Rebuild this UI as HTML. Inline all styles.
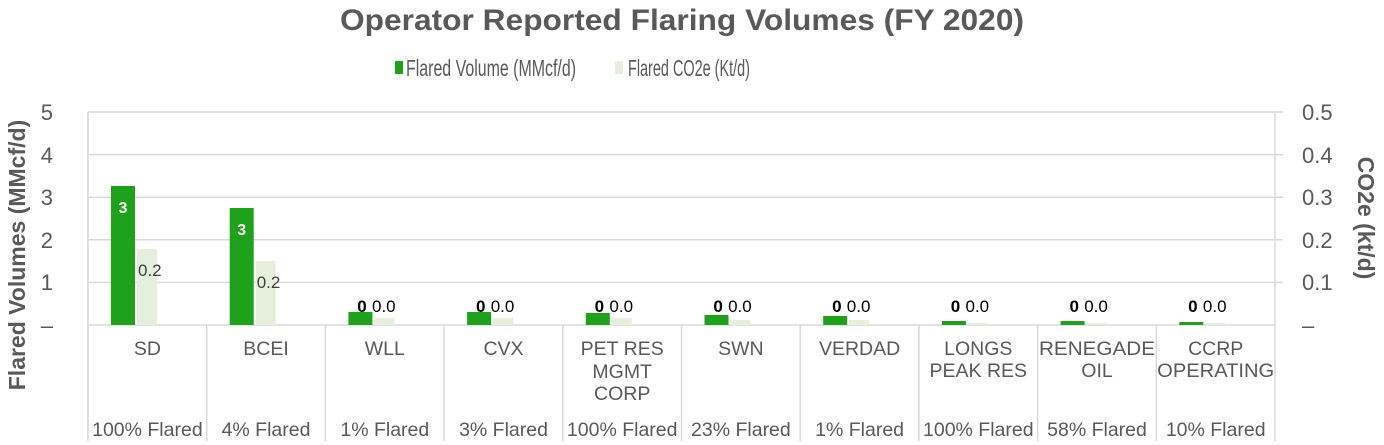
<!DOCTYPE html>
<html><head><meta charset="utf-8"><style>html,body{margin:0;padding:0;background:#fff;}svg{display:block;}</style></head>
<body>
<svg width="1384" height="445" xmlns="http://www.w3.org/2000/svg" font-family="Liberation Sans, Arial, sans-serif">
<text x="682" y="30" text-anchor="middle" font-size="30" font-weight="bold" fill="#595959" textLength="684" lengthAdjust="spacingAndGlyphs">Operator Reported Flaring Volumes (FY 2020)</text>
<rect x="395" y="61" width="8" height="13" fill="#1ea21a"/>
<text x="406" y="76" font-size="23" fill="#595959" textLength="170" lengthAdjust="spacingAndGlyphs">Flared Volume (MMcf/d)</text>
<rect x="615" y="61" width="8" height="13" fill="#e6efdc"/>
<text x="628" y="76" font-size="23" fill="#595959" textLength="122" lengthAdjust="spacingAndGlyphs">Flared CO2e (Kt/d)</text>
<g stroke="#d9d9d9" stroke-width="1.5">
<line x1="88" y1="112" x2="1283" y2="112"/><line x1="88" y1="154.6" x2="1283" y2="154.6"/><line x1="88" y1="197.2" x2="1283" y2="197.2"/><line x1="88" y1="239.8" x2="1283" y2="239.8"/><line x1="88" y1="282.4" x2="1283" y2="282.4"/><line x1="88" y1="325" x2="1275" y2="325"/>
<line x1="88" y1="112" x2="88" y2="441"/><line x1="1275" y1="112" x2="1275" y2="441"/>
<line x1="206.7" y1="325" x2="206.7" y2="441"/><line x1="325.4" y1="325" x2="325.4" y2="441"/><line x1="444.1" y1="325" x2="444.1" y2="441"/><line x1="562.8" y1="325" x2="562.8" y2="441"/><line x1="681.5" y1="325" x2="681.5" y2="441"/><line x1="800.2" y1="325" x2="800.2" y2="441"/><line x1="918.9" y1="325" x2="918.9" y2="441"/><line x1="1037.6" y1="325" x2="1037.6" y2="441"/><line x1="1156.3" y1="325" x2="1156.3" y2="441"/>
</g>
<g font-size="22" fill="#595959" text-anchor="end">
<text x="53" y="120">5</text><text x="53" y="163">4</text><text x="53" y="205">3</text><text x="53" y="248">2</text><text x="53" y="290">1</text><text x="53" y="333">–</text>
</g>
<g font-size="22" fill="#595959">
<text x="1302" y="120">0.5</text><text x="1302" y="163">0.4</text><text x="1302" y="205">0.3</text><text x="1302" y="248">0.2</text><text x="1302" y="290">0.1</text><text x="1302" y="333">–</text>
</g>
<text transform="translate(25,255) rotate(-90)" text-anchor="middle" font-size="23" font-weight="bold" fill="#595959">Flared Volumes (MMcf/d)</text>
<text transform="translate(1358,218) rotate(90)" text-anchor="middle" font-size="23" font-weight="bold" fill="#595959">CO2e (kt/d)</text>
<g fill="#1ea21a">
<rect x="111" y="186" width="24" height="139"/><rect x="229.7" y="208" width="24" height="117"/><rect x="348.4" y="312" width="24" height="13"/><rect x="467.1" y="312" width="24" height="13"/><rect x="585.8" y="313" width="24" height="12"/><rect x="704.5" y="315" width="24" height="10"/><rect x="823.2" y="316" width="24" height="9"/><rect x="941.9" y="321" width="24" height="4"/><rect x="1060.6" y="321" width="24" height="4"/><rect x="1179.3" y="322" width="24" height="3"/>
</g>
<g fill="#e6efdc">
<rect x="137" y="249" width="20" height="76"/><rect x="255.7" y="261" width="20" height="64"/><rect x="374.4" y="318" width="20" height="7"/><rect x="493.1" y="318" width="20" height="7"/><rect x="611.8" y="318" width="20" height="7"/><rect x="730.5" y="320" width="20" height="5"/><rect x="849.2" y="320" width="20" height="5"/><rect x="967.9" y="323" width="20" height="2"/><rect x="1086.6" y="323" width="20" height="2"/><rect x="1205.3" y="323" width="20" height="2"/>
</g>
<g font-size="16" font-weight="bold" fill="#fff" text-anchor="middle">
<text x="123" y="213">3</text><text x="241.7" y="235">3</text>
</g>
<g font-size="17" fill="#404040">
<text x="138" y="276">0.2</text><text x="256.7" y="288">0.2</text>
</g>
<g font-size="17" fill="#000">
<g font-weight="bold" text-anchor="middle">
<text x="362" y="312">0</text><text x="480.7" y="312">0</text><text x="599.4" y="312">0</text><text x="718.1" y="312">0</text><text x="836.8" y="312">0</text><text x="955.5" y="312">0</text><text x="1074.2" y="312">0</text><text x="1192.9" y="312">0</text>
</g>
<text x="372" y="312">0.0</text><text x="490.7" y="312">0.0</text><text x="609.4" y="312">0.0</text><text x="728.1" y="312">0.0</text><text x="846.8" y="312">0.0</text><text x="965.5" y="312">0.0</text><text x="1084.2" y="312">0.0</text><text x="1202.9" y="312">0.0</text>
</g>
<g font-size="19.5" fill="#595959" text-anchor="middle">
<text x="147.4" y="355">SD</text><text x="266" y="355">BCEI</text><text x="384.8" y="355">WLL</text><text x="503.5" y="355">CVX</text>
<text x="622.2" y="355">PET RES</text><text x="622.2" y="378">MGMT</text><text x="622.2" y="400">CORP</text>
<text x="740.9" y="355">SWN</text><text x="859.6" y="355">VERDAD</text>
<text x="978.3" y="355">LONGS</text><text x="978.3" y="377">PEAK RES</text>
<text x="1097" y="355" textLength="116" lengthAdjust="spacingAndGlyphs">RENEGADE</text><text x="1097" y="377">OIL</text>
<text x="1215.7" y="355">CCRP</text><text x="1215.7" y="377" textLength="117" lengthAdjust="spacingAndGlyphs">OPERATING</text>
<text x="147.4" y="436">100% Flared</text><text x="266" y="436">4% Flared</text><text x="384.8" y="436">1% Flared</text><text x="503.5" y="436">3% Flared</text><text x="622.2" y="436">100% Flared</text><text x="740.9" y="436">23% Flared</text><text x="859.6" y="436">1% Flared</text><text x="978.3" y="436">100% Flared</text><text x="1097" y="436">58% Flared</text><text x="1215.7" y="436">10% Flared</text>
</g>
</svg>
</body></html>
